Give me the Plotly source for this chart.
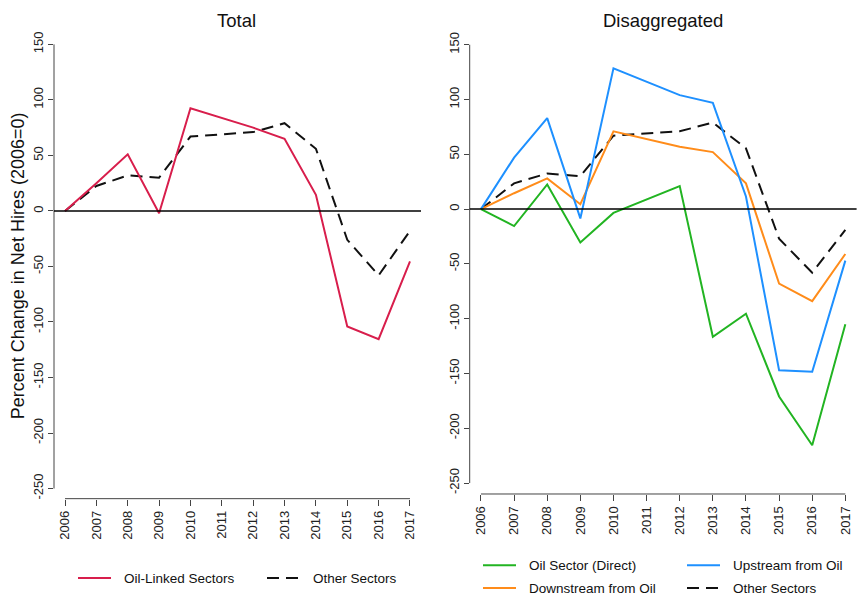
import plotly.graph_objects as go

years = list(range(2006, 2018))

# Left panel: Total
oil_linked = [0, 25, 51, -2, 92.5, 84, 75, 65, 14.5, -104, -115.5, -45.5]
other_total = [0, 22.5, 32, 30, 67, 69, 71, 79, 56, -26, -58, -18]

# Right panel: Disaggregated
oil_direct = [0, -15.5, 22.5, -30.5, -3.5, 9, 21, -116.5, -95.5, -171, -215.5, -105]
upstream = [0, 47, 83, -8.5, 128.5, 116, 104, 97, 11.5, -147, -148.5, -47]
downstream = [0, 14.5, 28, 4.5, 71, 64, 57, 52, 23.5, -68, -84, -41]
other_dis = [0, 23.5, 32.5, 30, 67, 69, 71, 79, 55.5, -27, -58, -19]

y_ticks = [150, 100, 50, 0, -50, -100, -150, -200, -250]

panel_titles = ["Total", "Disaggregated"]
y_title = "Percent Change in Net Hires (2006=0)"

c_red = "#D81E4C"
c_green = "#22B422"
c_blue = "#1E90FF"
c_orange = "#FF8C1A"
c_black = "#111111"
DASH = "12px,7px"
FONT = "Liberation Sans, Arial, sans-serif"

W, H = 858, 597
def px(x):
    return x / W
def py(y):
    return 1 - y / H

fig = go.Figure()

def add(x, y, color, xa, ya, dash=None):
    fig.add_trace(go.Scatter(x=x, y=y, mode="lines", xaxis=xa, yaxis=ya,
                             line=dict(color=color, width=2, dash=dash),
                             showlegend=False, hoverinfo="skip"))

add(years, other_total, c_black, "x", "y", DASH)
add(years, oil_linked, c_red, "x", "y")

add(years, other_dis, c_black, "x2", "y2", DASH)
add(years, downstream, c_orange, "x2", "y2")
add(years, upstream, c_blue, "x2", "y2")
add(years, oil_direct, c_green, "x2", "y2")

axis_common = dict(showgrid=False, zeroline=False, showline=False, ticks="outside",
                   tickcolor="#444", tickwidth=1,
                   tickfont=dict(family=FONT, size=13, color="#222"))

# left panel geometry
L_x0, L_x1 = 54, 421
L_ytop, L_ybot = 31.5, 499
# right panel geometry
R_x0, R_x1 = 469.7, 856.6
R_ytop, R_ybot = 31, 494.3

fig.update_layout(
    width=W, height=H, margin=dict(l=0, r=0, t=0, b=0),
    paper_bgcolor="white", plot_bgcolor="white",
    xaxis=dict(domain=[px(L_x0), px(L_x1)], range=[2005.649, 2017.351],
               tickvals=years, ticktext=[str(y) for y in years], tickangle=-90,
               ticklen=6, anchor="y", **axis_common),
    yaxis=dict(domain=[py(L_ybot), py(L_ytop)], range=[-259.1, 159.1],
               tickvals=y_ticks, ticktext=[str(v) for v in y_ticks], tickangle=-90,
               ticklen=5, anchor="x", **axis_common),
    xaxis2=dict(domain=[px(R_x0), px(R_x1)], range=[2005.66, 2017.34],
                tickvals=years, ticktext=[str(y) for y in years], tickangle=-90,
                ticklen=6, anchor="y2", **axis_common),
    yaxis2=dict(domain=[py(R_ybot), py(R_ytop)], range=[-260, 160],
                tickvals=y_ticks, ticktext=[str(v) for v in y_ticks], tickangle=-90,
                ticklen=5, anchor="x2", **axis_common),
)

shapes = []
axcol = "#444"
for xr, yr in [("x", "y"), ("x2", "y2")]:
    # axis lines spanning tick range (R style)
    shapes.append(dict(type="line", xref=xr, yref=yr + " domain", x0=years[0], x1=years[-1],
                       y0=0, y1=0, line=dict(color=axcol, width=1)))
    shapes.append(dict(type="line", xref=xr + " domain", yref=yr, x0=0, x1=0,
                       y0=y_ticks[-1], y1=y_ticks[0], line=dict(color=axcol, width=1)))
    # zero reference line
    shapes.append(dict(type="line", xref=xr + " domain", yref=yr, x0=0, x1=1,
                       y0=0, y1=0, line=dict(color="black", width=1.5)))

annotations = []
# titles
for t, xc in zip(panel_titles, [237, 663]):
    annotations.append(dict(text=t, x=px(xc), y=py(18), xref="paper", yref="paper",
                            xanchor="center", yanchor="middle", showarrow=False,
                            font=dict(family=FONT, size=18.5, color="#111")))
annotations.append(dict(text=y_title, x=px(18), y=py(265), xref="paper", yref="paper",
                        xanchor="center", yanchor="middle",
                        textangle=-90, showarrow=False,
                        font=dict(family=FONT, size=18, color="#111")))

# legends
legend_items = [
    ("Oil-Linked Sectors", c_red, None, 78, 579),
    ("Other Sectors", c_black, DASH, 267, 579),
    ("Oil Sector (Direct)", c_green, None, 483, 566),
    ("Upstream from Oil", c_blue, None, 687, 566),
    ("Downstream from Oil", c_orange, None, 483, 589),
    ("Other Sectors", c_black, DASH, 687, 589),
]
for label, col, dash, x0, yy in legend_items:
    ln = dict(color=col, width=2)
    if dash:
        ln["dash"] = DASH
    shapes.append(dict(type="line", xref="paper", yref="paper", x0=px(x0), x1=px(x0 + 33),
                       y0=py(yy), y1=py(yy), line=ln))
    annotations.append(dict(text=label, x=px(x0 + 44), y=py(yy), xref="paper", yref="paper",
                            xanchor="left", yanchor="middle", showarrow=False,
                            font=dict(family=FONT, size=13.5, color="#111")))

fig.update_layout(shapes=shapes, annotations=annotations)
fig.write_html("out.html", config={"displayModeBar": False},
               post_script="document.body.style.margin='0';document.body.style.overflow='hidden';")
